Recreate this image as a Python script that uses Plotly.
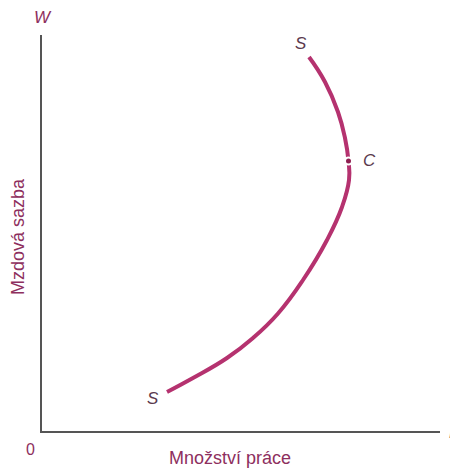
import plotly.graph_objects as go

# Supply curve S-S (backward-bending labour supply), data units 0-100
curve_L = [31.41, 37.94, 46.48, 53.02, 59.30, 65.58, 71.61, 75.38, 77.14, 77.01, 76.13, 74.37, 71.11, 67.09]
curve_W = [9.85, 13.38, 18.43, 23.48, 29.67, 38.13, 48.23, 56.57, 63.38, 68.18, 73.99, 80.56, 88.13, 94.44]

point_C_L = [77.01]
point_C_W = [68.18]

label_text = ["<i>S</i>", "<i>C</i>", "<i>S</i>"]
label_L = [65.1, 82.4, 27.8]
label_W = [97.8, 68.2, 8.2]

x_title = "Množství práce"
y_title = "Mzdová sazba"

CURVE = "#B5326F"
TXT = "#8E2F5E"
LBL = "#5A3A4E"
AX = "#555555"
FONT = "Liberation Sans, Arial, sans-serif"

fig = go.Figure()
fig.add_trace(go.Scatter(x=curve_L, y=curve_W, mode="lines",
                         line=dict(color=CURVE, width=4, shape="spline", smoothing=1.3),
                         hoverinfo="skip", showlegend=False))
fig.add_trace(go.Scatter(x=point_C_L, y=point_C_W, mode="markers",
                         marker=dict(size=7, color="#8E1F50", line=dict(color="white", width=2)),
                         showlegend=False))

for t, lx, ly in zip(label_text, label_L, label_W):
    fig.add_annotation(x=lx, y=ly, text=t, showarrow=False,
                       font=dict(family=FONT, size=17, color=LBL),
                       xanchor="center", yanchor="middle")

def pann(x, y, text, size, color, angle=0):
    fig.add_annotation(xref="paper", yref="paper", x=x, y=y, text=text,
                       textangle=angle, showarrow=False, xanchor="center", yanchor="middle",
                       font=dict(family=FONT, size=size, color=color))

# axis end labels
pann(0.003, 1.043, "<i>W</i>", 17, TXT)
pann(1.033, -0.003, "<i>L</i>", 17, LBL)
pann(-0.030, -0.046, "0", 16, TXT)
pann(0.472, -0.068, x_title, 18, TXT)
pann(-0.060, 0.49, y_title, 18, TXT, -90)

fig.update_xaxes(range=[0, 100], showgrid=False, zeroline=False, showticklabels=False,
                 ticks="", showline=True, linecolor=AX, linewidth=2)
fig.update_yaxes(range=[0, 100], showgrid=False, zeroline=False, showticklabels=False,
                 ticks="", showline=True, linecolor=AX, linewidth=2)

# page body has an 8px margin, so the figure is 8px smaller and margins shifted
fig.update_layout(width=450, height=460, plot_bgcolor="white", paper_bgcolor="white",
                  margin=dict(l=34, r=18, t=27, b=37))

fig.write_html("out.html")
